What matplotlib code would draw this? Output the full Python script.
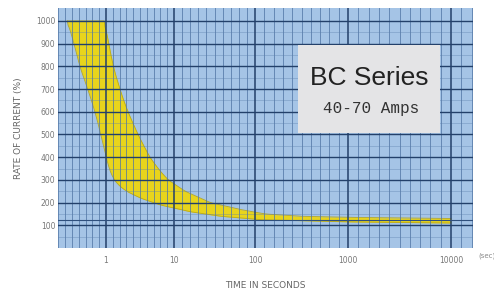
import numpy as np
import matplotlib
matplotlib.use("Agg")
import matplotlib.pyplot as plt

# ---- data ----
# left (fast) edge of the trip band: time in s, rate of current in %
lower_t = [0.27, 0.34, 0.41, 0.54, 0.69, 0.84, 0.97, 1.08, 1.25, 1.55, 2.0, 3.2, 6.2, 15.7, 37, 112, 1000, 10000]
lower_v = [1000, 900, 800, 700, 600, 500, 420, 360, 310, 275, 250, 220, 190, 160, 140, 125, 115, 110]
# right (slow) edge of the band
upper_t = [0.27, 0.95, 1.27, 1.72, 2.1, 2.95, 4.4, 6.2, 8.2, 13.7, 28, 65, 128, 300, 1000, 10000]
upper_v = [1000, 1000, 800, 670, 600, 500, 400, 340, 300, 250, 200, 170, 150, 140, 135, 130]

x_ticks = [1, 10, 100, 1000, 10000]
x_labels = ["1", "10", "100", "1000", "10000"]
y_ticks = [100, 200, 300, 400, 500, 600, 700, 800, 900, 1000]

# the printed time axis is not an even log scale: decade positions measured in pixels
dec_log = np.array([-1, 0, 1, 2, 3, 4, 5], dtype=float)
dec_px = np.array([38, 106, 174, 255, 348, 451, 554], dtype=float)


def fwd(t):
    t = np.clip(np.asarray(t, dtype=float), 1e-6, None)
    return np.interp(np.log10(t), dec_log, dec_px)


def inv(p):
    return 10 ** np.interp(np.asarray(p, dtype=float), dec_px, dec_log)


def smooth(v, n=9):
    # light moving average so the band edges are not polygonal
    pad = np.r_[np.full(n, v[0]), v, np.full(n, v[-1])]
    out = np.convolve(pad, np.ones(n) / n, mode="same")
    return out[n:-n]


fig = plt.figure(figsize=(4.94, 2.89), dpi=100)
ax = fig.add_axes([58 / 494, 41 / 289, 415 / 494, 240 / 289])
ax.set_xscale("function", functions=(fwd, inv))
ax.set_facecolor("#a5c4e6")
for s in ax.spines.values():
    s.set_visible(False)

ax.set_xlim(inv(58), inv(473))
ax.set_ylim(0, 1057)

# trip band, interpolated on a common grid in scale space
pp = np.linspace(fwd(0.27), fwd(10000), 500)
tt = inv(pp)
lo = smooth(np.interp(pp, fwd(lower_t), lower_v))
hi = smooth(np.interp(pp, fwd(upper_t), upper_v))
hi[pp <= fwd(0.95)] = 1000
lo[0] = 1000
ax.fill_between(tt, lo, hi, color="#e8d41c", lw=0, zorder=1)
ax.plot(tt, lo, color="#b8a81e", lw=0.6, zorder=1)
ax.plot(tt, hi, color="#b8a81e", lw=0.6, zorder=1)

# grid drawn over the band
minor_x = []
for i in range(len(dec_px) - 1):
    for k in range(1, 10):
        minor_x.append(inv(dec_px[i] + k * (dec_px[i + 1] - dec_px[i]) / 10))
for x in minor_x:
    ax.axvline(x, color="#4f74a3", lw=0.7, alpha=0.75, zorder=2)
for x in x_ticks:
    ax.axvline(x, color="#23406a", lw=1.1, zorder=3)
for y in np.arange(50, 1050, 100):
    ax.axhline(y, color="#5a7eab", lw=0.5, alpha=0.5, zorder=2)
for y in y_ticks:
    ax.axhline(y, color="#23406a", lw=1.0, zorder=3)
ax.axhline(125, color="#2f4f7c", lw=0.8, zorder=3)

ax.set_xticks(x_ticks)
ax.set_xticklabels(x_labels)
ax.set_xticks([], minor=True)
ax.set_yticks(y_ticks)
ax.tick_params(length=0, labelsize=5.5, labelcolor="#777777")
ax.tick_params(axis="y", pad=2)
ax.tick_params(axis="x", pad=6)

ax.set_ylabel("RATE OF CURRENT (%)", fontsize=6.5, color="#666666", labelpad=9)
ax.set_xlabel("TIME IN SECONDS", fontsize=6.5, color="#666666", labelpad=11)
fig.text(478 / 494, 1 - 256 / 289, "(sec)", fontsize=5, color="#888888", va="center")

# title box
fig.patches.append(plt.Rectangle((298 / 494, 1 - 133 / 289), 142 / 494, 88 / 289,
                                 transform=fig.transFigure, facecolor="#e4e4e6",
                                 edgecolor="none", zorder=5))
fig.text(369 / 494, 1 - 78 / 289, "BC Series", fontsize=19, color="#222222",
         family="Liberation Sans", ha="center", va="center", zorder=6)
fig.text(371 / 494, 1 - 109 / 289, "40-70 Amps", fontsize=11.5, color="#333333",
         family=["Liberation Mono", "DejaVu Sans Mono"], ha="center", va="center", zorder=6)

fig.savefig("out.png", dpi=100)
